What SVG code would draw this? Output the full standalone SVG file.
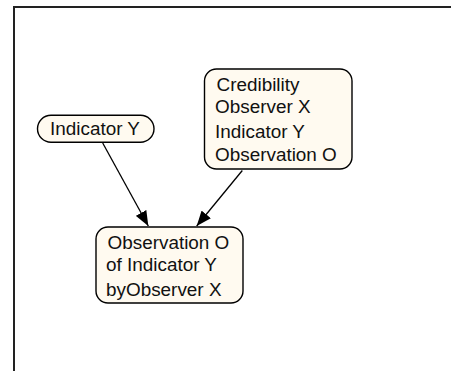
<svg xmlns="http://www.w3.org/2000/svg" width="451" height="371" viewBox="0 0 451 371">
<style>
.node{fill:#FFFAF0;stroke:#000;stroke-width:1.4}
.t{font-family:"Liberation Sans",Arial,sans-serif;font-size:18.9px;fill:#111}
.edge{stroke:#000;stroke-width:1.3;fill:none;marker-end:url(#arr)}
</style>
<defs>
<marker id="arr" markerWidth="16" markerHeight="12" refX="15" refY="6" orient="auto" markerUnits="userSpaceOnUse">
<path d="M0,0 L15,6 L0,12 Z" fill="#000"/>
</marker>
</defs>
<rect x="0" y="0" width="451" height="371" fill="#fff"/>
<path d="M14,371 V7 H451" fill="none" stroke="#222" stroke-width="2"/>
<g id="connectors">
<line class="edge" x1="102.7" y1="143" x2="148.3" y2="226"/>
<line class="edge" x1="242.3" y1="170.5" x2="196.7" y2="226"/>
</g>
<g id="indicatorY">
<rect class="node" x="37.5" y="115.2" width="116.5" height="27" rx="13.5"/>
<text class="t" x="50" y="135">Indicator Y</text>
</g>
<g id="credibility">
<rect class="node" x="204.5" y="69" width="147.5" height="100" rx="12"/>
<text class="t" x="216.5" y="90.5">Credibility</text>
<text class="t" x="215" y="113.3">Observer X</text>
<text class="t" x="215" y="137.5">Indicator Y</text>
<text class="t" x="215" y="160.7">Observation O</text>
</g>
<g id="observation">
<rect class="node" x="96" y="227" width="147" height="76" rx="12"/>
<text class="t" x="107.5" y="248.5">Observation O</text>
<text class="t" x="106" y="271">of Indicator Y</text>
<text class="t" x="106" y="295.5">byObserver X</text>
</g>
</svg>
